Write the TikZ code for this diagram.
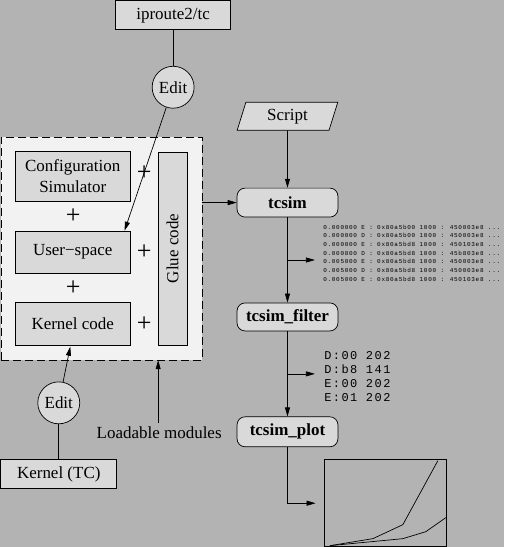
\documentclass[tikz,border=0pt]{standalone}
\usepackage{fontspec}
\setmainfont{Liberation Serif}
\newfontfamily\dumpfont[LetterSpace=12]{Liberation Mono}
\usetikzlibrary{positioning}
\usetikzlibrary{arrows.meta,shapes}
\definecolor{bggray}{RGB}{179,179,179}
\definecolor{boxgray}{RGB}{217,217,217}
\definecolor{framegray}{RGB}{242,242,242}
\tikzstyle{box}=[rectangle,draw,fill=boxgray,minimum width=115pt,inner sep=0pt,font=\fontsize{17}{21}\selectfont,align=center]
\tikzstyle{tool}=[rectangle,rounded corners=8pt,draw,fill=boxgray,minimum width=101pt,minimum height=29pt,inner sep=0pt,font=\fontsize{17}{19}\selectfont\bfseries]
\tikzstyle{editnode}=[circle,draw,fill=boxgray,minimum size=42pt,inner sep=0pt,font=\fontsize{17}{19}\selectfont]
\tikzstyle{plus}=[font=\fontsize{26}{26}\selectfont,inner sep=0pt]
\tikzstyle{arr}=[-{Triangle[length=9pt,width=5pt]}]

\begin{document}
\begin{tikzpicture}[x=1pt,y=-1pt,line width=0.7pt]

   \draw[fill=bggray,draw=bggray] (0,0) rectangle (504,547);

% simulator frame
   \node[rectangle,draw,dash pattern=on 8pt off 4pt,fill=framegray,minimum width=201pt,minimum height=223pt] (frame) at (101.5,248.5) {};

   \node[box,minimum height=50pt] (config) at (72.5,176) {Configuration\\Simulator};
   \node[box,minimum height=42pt] (user) at (72.5,252) {User−space};
   \node[box,minimum height=43pt] (kernel) at (72.5,323.5) {Kernel code};
   \node[box,rotate=90,minimum width=193pt,minimum height=29pt] (glue) at (172.5,248.5) {Glue code};

    \foreach \pos/\name in {{(73,216)/p1}, {(73,288)/p2}, {(144,173)/p3}, {(144,252)/p4}, {(144,324)/p5}}
        \node[plus] (\name) at \pos {+};

% sources
   \node[box,minimum height=29pt] (iproute) at (173,15) {iproute2/tc};
   \node[editnode] (edittop) at (173,87) {Edit};
   \node[editnode] (editbot) at (58.5,403) {Edit};
   \node[box,minimum width=116pt,minimum height=29pt] (kerneltc) at (58.5,474.5) {Kernel (TC)};
   \node[font=\fontsize{17}{19}\selectfont] (modules) at (159,433) {Loadable modules};

   \draw (iproute) -- (edittop);
   \draw[arr] (edittop) -- ([xshift=-6pt]user.north east);
   \draw (kerneltc) -- (editbot);
   \draw[arr] (editbot) -- ([xshift=-2.5pt,yshift=-1.5pt]kernel.south);
   \draw[arr] ([xshift=-1pt]modules.north) -- ([xshift=-1pt]modules.north |- frame.south);

% tool chain
   \node[trapezium,draw,fill=boxgray,trapezium left angle=74,trapezium right angle=106,trapezium stretches=true,minimum width=101pt,minimum height=28pt,inner sep=0pt,font=\fontsize{17}{19}\selectfont] (script) at (287.5,116) {Script};
   \node[tool] (tcsim) at (287.5,202.5) {tcsim};
   \node[tool,minimum height=28pt] (filter) at (287.5,317) {tcsim\_filter};
   \node[tool,minimum height=30pt] (plot) at (287.5,432) {tcsim\_plot};

   \draw[arr] (script) -- (tcsim);
   \draw[arr] (frame.east |- tcsim) -- (tcsim);
   \draw[arr] (tcsim) -- (filter);
   \draw[arr] (filter) -- (plot);

   \coordinate (dump1) at (315,260);
   \coordinate (dump2) at (315,374);
   \draw[arr] (tcsim.south |- dump1) -- (dump1);
   \draw[arr] (filter.south |- dump2) -- (dump2);

   \node[anchor=west,align=left,inner sep=0pt,font=\dumpfont\fontsize{6}{8.7}\selectfont] (trace) at (323,253) {0.000000 E : 0x80a5b00 1000 : 450003e8 ...\\0.000000 D : 0x80a5b00 1000 : 450003e8 ...\\0.000000 E : 0x80a5bd8 1000 : 450103e8 ...\\0.000800 D : 0x80a5bd8 1000 : 45b803e8 ...\\0.005000 E : 0x80a5bd8 1000 : 450003e8 ...\\0.005000 D : 0x80a5bd8 1000 : 450003e8 ...\\0.005000 E : 0x80a5bd8 1000 : 450103e8 ...};
   \node[anchor=west,align=left,inner sep=0pt,font=\dumpfont\fontsize{12}{14}\selectfont] (counts) at (324,377) {D:00 202\\D:b8 141\\E:00 202\\E:01 202};

   \node[rectangle,draw,minimum width=123pt,minimum height=87pt,inner sep=0pt] (graph) at (385.5,503.5) {};
   \draw[arr,shorten >=8pt] (plot.south) |- (graph.west);
   \draw (330,546) -- (373,539) -- (403,525) -- (438,461);
   \draw (330,546) -- (403,539) -- (426,532) -- (446,518);

\end{tikzpicture}
\end{document}
